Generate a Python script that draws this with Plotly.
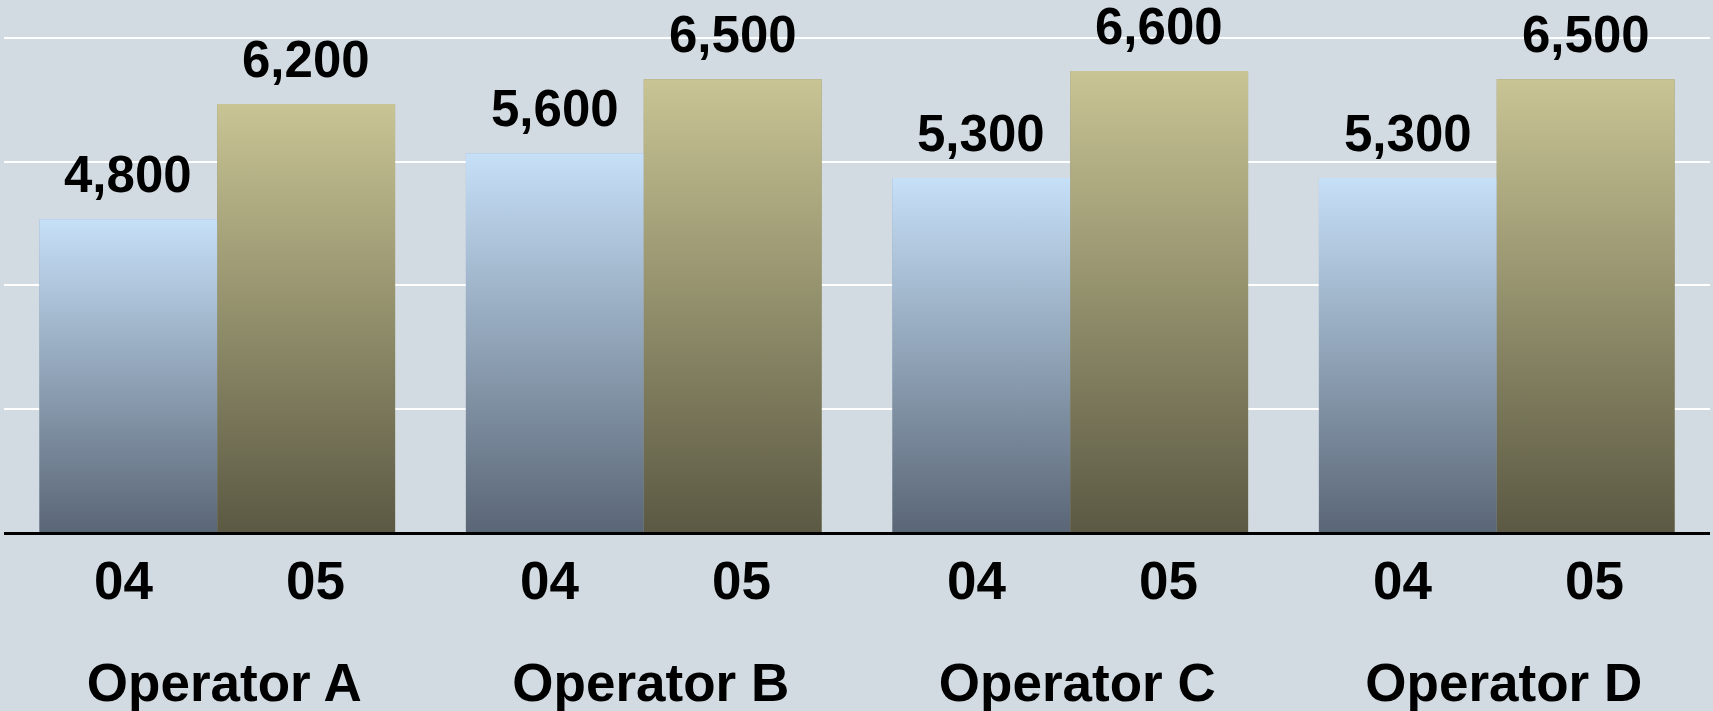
import plotly.graph_objects as go

# ---- data ----
operators = ["Operator A", "Operator B", "Operator C", "Operator D"]
series_names = ["04", "05"]
values_04 = [4800, 5600, 5300, 5300]
values_05 = [6200, 6500, 6600, 6500]

# ---- style ----
BG = "#d3dbe2"
FONT = "Liberation Sans, Arial, Helvetica, sans-serif"
Y_MIN, Y_MAX = 1000, 7462
BAR_W = 0.417
styles = {
    "04": dict(offset=-BAR_W, light="#c6e0f8", dark="#5a6676", mid="#8fa3b8", lab_shift=-94),
    "05": dict(offset=0.0, light="#c8c494", dark="#5b5943", mid="#928f6c", lab_shift=98),
}
series = {"04": values_04, "05": values_05}

fig = go.Figure()
xs = list(range(len(operators)))

for name in series_names:
    st = styles[name]
    vals = series[name]
    fig.add_trace(go.Bar(
        x=xs, y=vals, name=name, width=BAR_W, offset=st["offset"],
        marker=dict(color=st["mid"], line=dict(width=0)),
        hoverinfo="skip", showlegend=False,
    ))

# gradient overlay for each bar, built from the same values
for name in series_names:
    st = styles[name]
    for i, v in zip(xs, series[name]):
        x0 = i + st["offset"]
        x1 = x0 + BAR_W
        fig.add_trace(go.Scatter(
            x=[x0, x1, x1, x0, x0], y=[Y_MIN, Y_MIN, v, v, Y_MIN],
            mode="lines", line=dict(width=0), fill="toself",
            fillgradient=dict(type="vertical",
                              colorscale=[[0, st["dark"]], [1, st["light"]]],
                              start=Y_MIN, stop=v),
            hoverinfo="skip", showlegend=False,
        ))
        # value label
        fig.add_annotation(
            x=i + st["offset"] + BAR_W / 2, y=v, xref="x", yref="y",
            text=f"{v:,}", showarrow=False, yanchor="bottom", yshift=14,
            font=dict(family=FONT, size=51, color="#000000", weight="bold"),
        )
        # year label under the bar
        fig.add_annotation(
            x=i, y=0, xref="x", yref="paper", text=name, showarrow=False,
            yanchor="top", yshift=-17, xshift=st["lab_shift"],
            font=dict(family=FONT, size=53, color="#000000", weight="bold"),
        )

fig.update_layout(
    width=1713, height=711,
    margin=dict(l=4, r=3, t=0, b=179, autoexpand=False),
    paper_bgcolor=BG, plot_bgcolor=BG,
    barmode="overlay",
    showlegend=False,
    xaxis=dict(
        range=[-0.5, 3.5], tickvals=xs, ticktext=operators,
        showgrid=False, zeroline=False, ticks="",
        showline=True, linecolor="#000000", linewidth=3,
        tickfont=dict(family=FONT, size=53, color="#000000", weight="bold"),
        ticklabelstandoff=102, ticklabelshift=7, automargin=False,
    ),
    yaxis=dict(
        range=[Y_MIN, Y_MAX], tick0=Y_MIN, dtick=1500,
        showgrid=True, gridcolor="#ffffff", gridwidth=1.5,
        zeroline=False, showticklabels=False, ticks="", automargin=False,
    ),
)

fig.write_html(
    "out.html",
    config={"displayModeBar": False},
    post_script="document.body.style.margin='0';document.body.style.overflow='hidden';",
)
